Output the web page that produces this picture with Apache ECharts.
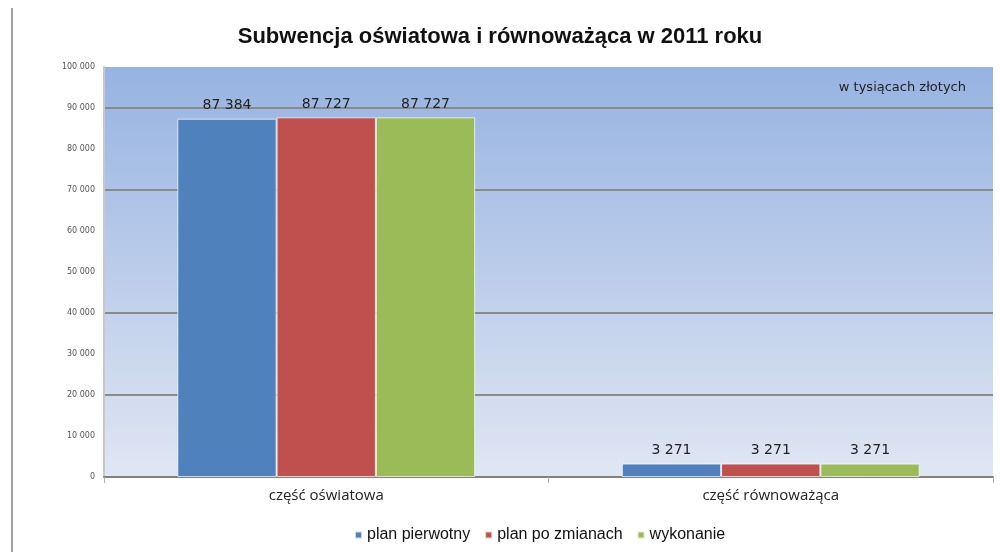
<!DOCTYPE html>
<html>
<head>
<meta charset="utf-8">
<script src="https://cdn.jsdelivr.net/npm/echarts@6/dist/echarts.min.js"></script>
<style>
  html, body { margin: 0; padding: 0; background: #fff; }
  #main { width: 1000px; height: 552px; }
</style>
</head>
<body>
<div id="main"></div>
<script>
// dane wykresu (tys. zł)
var categories = ['część oświatowa', 'część równoważąca'];
var seriesNames = ['plan pierwotny', 'plan po zmianach', 'wykonanie'];
var planPierwotny = [87384, 3271];
var planPoZmianach = [87727, 3271];
var wykonanie = [87727, 3271];
var colors = ['#4F81BD', '#C0504D', '#9BBB59'];

// linie siatki widoczne tylko przy 20 000, 40 000, 70 000, 90 000
var gridColors = ['rgba(0,0,0,0)', 'rgba(0,0,0,0)', '#8a8a8a', 'rgba(0,0,0,0)', '#8a8a8a',
    'rgba(0,0,0,0)', 'rgba(0,0,0,0)', '#8a8a8a', 'rgba(0,0,0,0)', '#8a8a8a', 'rgba(0,0,0,0)'];

function fmt(v) {
    return String(v).replace(/\B(?=(\d{3})+(?!\d))/g, ' ');
}

var myChart = echarts.init(document.getElementById('main'));

function makeSeries(name, data, color) {
    return {
        name: name,
        type: 'bar',
        data: data,
        barGap: '0%',
        barCategoryGap: '33%',
        itemStyle: {
            color: color,
            borderColor: 'rgba(255,255,255,0.7)',
            borderWidth: 1
        },
        label: {
            show: true,
            position: 'top',
            distance: 6,
            color: '#222',
            fontFamily: 'DejaVu Sans, sans-serif',
            fontSize: 14,
            formatter: function (p) { return fmt(p.value); }
        }
    };
}

option = {
    animation: false,
    title: {
        text: 'Subwencja oświatowa i równoważąca w 2011 roku',
        left: 'center',
        top: 21,
        textStyle: {
            fontFamily: 'Liberation Sans, Arial, sans-serif',
            fontSize: 22,
            fontWeight: 'bold',
            color: '#111'
        }
    },
    legend: {
        bottom: 4,
        left: 349,
        itemWidth: 7,
        itemHeight: 7,
        itemGap: 14,
        icon: 'rect',
        textStyle: {
            fontFamily: 'Liberation Sans, Arial, sans-serif',
            fontSize: 16,
            color: '#111'
        },
        data: seriesNames
    },
    grid: {
        left: 104,
        right: 7,
        top: 67,
        bottom: 75,
        show: true,
        borderWidth: 0,
        backgroundColor: {
            type: 'linear', x: 0, y: 0, x2: 0, y2: 1,
            colorStops: [
                { offset: 0, color: '#97b3e2' },
                { offset: 1, color: '#e0e6f3' }
            ]
        }
    },
    graphic: [{
        type: 'rect',
        shape: { x: 11, y: 8, width: 2, height: 544 },
        style: { fill: '#a0a0a0' }
    }, {
        type: 'text',
        right: 34,
        top: 81,
        style: {
            text: 'w tysiącach złotych',
            fontFamily: 'DejaVu Sans, sans-serif',
            fontSize: 13,
            fill: '#222'
        }
    }],
    xAxis: {
        type: 'category',
        data: categories,
        axisLine: { lineStyle: { color: '#808080', width: 2 } },
        axisTick: { show: true, length: 6, lineStyle: { color: '#b0b0b0' } },
        axisLabel: {
            margin: 11,
            fontFamily: 'Open Sans, DejaVu Sans, sans-serif',
            fontSize: 15,
            color: '#222'
        }
    },
    yAxis: {
        type: 'value',
        min: 0,
        max: 100000,
        interval: 10000,
        axisLine: { show: true, lineStyle: { color: '#c8c8c8', width: 2 } },
        axisTick: { show: false },
        axisLabel: {
            margin: 9,
            fontFamily: 'DejaVu Sans, sans-serif',
            fontSize: 8,
            color: '#555',
            formatter: function (v) { return fmt(v); }
        },
        splitLine: {
            show: true,
            lineStyle: { color: gridColors, width: 2 }
        }
    },
    series: [
        makeSeries(seriesNames[0], planPierwotny, colors[0]),
        makeSeries(seriesNames[1], planPoZmianach, colors[1]),
        makeSeries(seriesNames[2], wykonanie, colors[2])
    ]
};

myChart.setOption(option);
</script>
</body>
</html>
